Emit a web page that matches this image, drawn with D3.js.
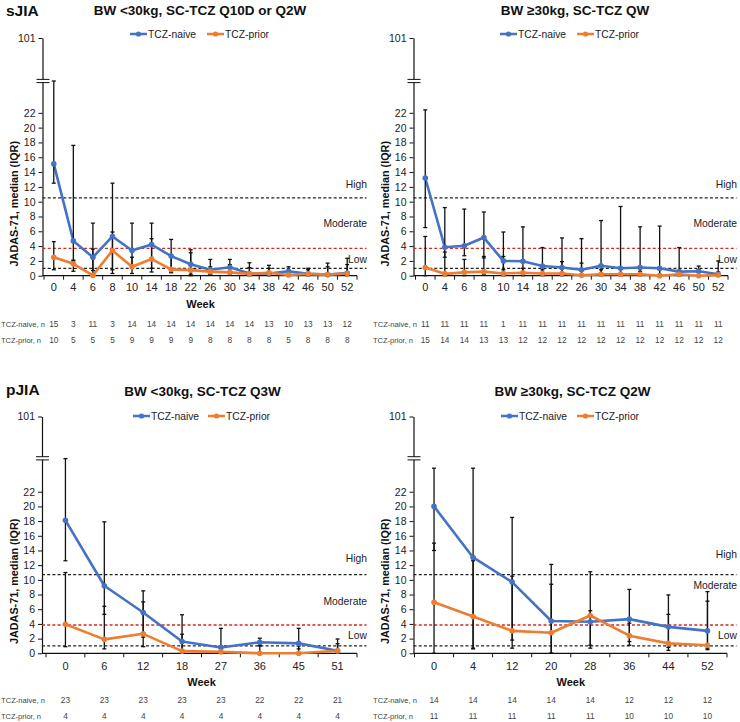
<!DOCTYPE html>
<html><head><meta charset="utf-8">
<script src="https://cdn.jsdelivr.net/npm/d3@7/dist/d3.min.js"></script>
<style>
body{margin:0;background:#fff}
svg{display:block;font-family:Arial,"Liberation Sans",sans-serif}
</style>
</head><body>
<svg id="chart" width="740" height="722"></svg>
<script>
// ---------- DATA ----------
const sjiaWeeks = [0,4,6,8,10,14,18,22,26,30,34,38,42,46,50,52];
const pjiaLowWeeks = [0,6,12,18,27,36,45,51];
const pjiaHighWeeks = [0,4,12,20,28,36,44,52];
const yTickValues = [0,2,4,6,8,10,12,14,16,18,20,22,101];
const seriesNames = ["TCZ-naive","TCZ-prior"];
const sectionLabels = ["sJIA","pJIA"];
const titles = ["BW <30kg, SC-TCZ Q10D or Q2W","BW \u226530kg, SC-TCZ QW","BW <30kg, SC-TCZ Q3W","BW \u226530kg, SC-TCZ Q2W"];
const zoneNames = ["High","Moderate","Low"];
const sjiaCutoffs = [10.5, 3.7, 1.0];
const pjiaCutoffs = [10.7, 3.85, 1.0];

// sJIA, BW <30kg
const tlNaive   = [15.1,4.7,2.5,5.3,3.4,4.2,2.65,1.55,0.8,1.15,0.3,0.3,0.6,0.25,0.15,0.35];
const tlPrior   = [2.5,1.6,0.05,3.4,1.2,2.25,0.85,0.75,0.55,0.45,0.25,0.4,0.1,0.25,0.15,0.3];
const tlNaiveLo = [12.5,2.0,0.7,0.8,1.0,1.0,0.5,0.2,0.2,0.3,0.1,0.1,0.2,0.1,0.0,0.1];
const tlNaiveHi = [26.3,17.6,7.1,12.5,7.1,7.1,4.9,3.5,2.2,2.2,1.75,1.4,1.2,1.0,1.7,2.35];
const tlPriorLo = [0.8,0.6,0.0,0.3,0.3,0.5,0.4,0.0,0.1,0.1,0.0,0.0,0.0,0.0,0.0,0.0];
const tlPriorHi = [4.6,2.1,3.6,5.9,2.5,5.0,2.7,3.1,1.2,1.5,1.1,1.0,0.5,0.8,1.2,1.5];
const tlNNaive  = [15,3,11,3,14,14,14,14,14,14,14,13,10,13,13,12];
const tlNPrior  = [10,5,5,5,9,9,9,9,8,8,8,8,5,8,8,8];

// sJIA, BW >=30kg
const trNaive   = [13.2,3.85,4.05,5.15,2.0,1.95,1.3,1.1,0.8,1.35,1.0,1.1,1.0,0.55,0.6,0.2];
const trPrior   = [1.1,0.25,0.45,0.55,0.3,0.4,0.3,0.3,0.05,0.2,0.2,0.2,0.0,0.2,0.0,0.1];
const trNaiveLo = [6.5,2.5,2.7,2.4,0.8,0.5,0.3,0.2,0.2,0.4,0.2,0.2,0.2,0.1,0.1,0.0];
const trNaiveHi = [22.4,9.2,9.0,8.6,5.9,6.6,3.8,5.1,5.0,7.45,9.35,6.6,6.7,3.8,1.3,2.0];
const trPriorLo = [0,0,0,0.2,0,0,0,0,0,0,0,0,0,0,0,0];
const trPriorHi = [5.3,3.2,2.2,2.6,2.6,1.0,0.8,1.9,1.7,0.8,0.9,0.6,0.8,0.6,0.8,0.5];
const trNNaive  = [11,11,11,11,1,11,11,11,11,11,11,11,11,11,11,11];
const trNPrior  = [15,14,14,13,13,12,12,12,12,12,12,12,12,12,12,12];

// pJIA, BW <30kg
const blNaive   = [18.1,9.2,5.55,1.6,0.8,1.5,1.35,0.35];
const blPrior   = [3.95,1.9,2.65,0.3,0.2,0.0,0.0,0.35];
const blNaiveLo = [12.6,5.3,2.2,0.5,0.0,1.1,0.6,0.0];
const blNaiveHi = [26.5,17.9,8.5,5.25,3.4,2.05,3.4,1.95];
const blPriorLo = [0.9,0.6,0.9,0.0,0.0,0.0,0.0,0.0];
const blPriorHi = [11.0,6.4,7.0,2.6,1.0,1.0,1.0,1.3];
const blNNaive  = [23,23,23,23,23,22,22,21];
const blNPrior  = [4,4,4,4,4,4,4,4];

// pJIA, BW >=30kg
const brNaive   = [20.0,13.05,9.7,4.4,4.3,4.65,3.6,3.05];
const brPrior   = [6.95,5.0,3.05,2.8,5.15,2.4,1.35,1.1];
const brNaiveLo = [14.0,0.7,1.8,0.0,1.1,1.6,0.8,0.7];
const brNaiveHi = [25.2,25.2,18.5,12.1,11.1,8.7,7.95,8.4];
const brPriorLo = [0.0,0.6,0.7,0.0,0.7,1.1,0.4,0.5];
const brPriorHi = [15.0,12.6,10.5,9.4,5.8,4.1,5.3,7.1];
const brNNaive  = [14,14,14,14,14,12,12,12];
const brNPrior  = [11,11,11,11,11,10,10,10];

// ---------- LAYOUT ----------
const colors = ["#4472C4","#ED7D31"];
const rowTop = {y0:275.7, yBreak:81, y101:38, brk:26.3, titleY:15, legY:34, tickY:291, weekY:308, nY:[327,343], sectY:16};
const rowBot = {y0:653.3, yBreak:458.3, y101:416.5, brk:26.55, titleY:395.5, legY:416, tickY:670, weekY:686, nY:[703,718.5], sectY:395};

const panels = [
  Object.assign({}, rowTop, {weeks:sjiaWeeks, naive:tlNaive, prior:tlPrior, nLo:tlNaiveLo, nHi:tlNaiveHi, pLo:tlPriorLo, pHi:tlPriorHi, nN:tlNNaive, nP:tlNPrior,
    cut:sjiaCutoffs, zoneVals:[12.4,7.1,2.25], x0:42.5, band:[44,357], dashEnd:366.5, title:titles[0], titleX:200, leg:[130,207], showWeek:true, nLabelX:1, ylabX:14, section:sectionLabels[0]}),
  Object.assign({}, rowTop, {weeks:sjiaWeeks, naive:trNaive, prior:trPrior, nLo:trNaiveLo, nHi:trNaiveHi, pLo:trPriorLo, pHi:trPriorHi, nN:trNNaive, nP:trNPrior,
    cut:sjiaCutoffs, zoneVals:[12.4,7.1,2.25], x0:413.5, band:[415.5,728], dashEnd:736.5, title:titles[1], titleX:575, leg:[500,577], showWeek:false, nLabelX:373, ylabX:385}),
  Object.assign({}, rowBot, {weeks:pjiaLowWeeks, naive:blNaive, prior:blPrior, nLo:blNaiveLo, nHi:blNaiveHi, pLo:blPriorLo, pHi:blPriorHi, nN:blNNaive, nP:blNPrior,
    cut:pjiaCutoffs, zoneVals:[12.9,7.1,2.4], x0:42, band:[46,357], dashEnd:366.5, title:titles[2], titleX:202.5, leg:[133,208], showWeek:true, nLabelX:1, ylabX:14, section:sectionLabels[1]}),
  Object.assign({}, rowBot, {weeks:pjiaHighWeeks, naive:brNaive, prior:brPrior, nLo:brNaiveLo, nHi:brNaiveHi, pLo:brPriorLo, pHi:brPriorHi, nN:brNNaive, nP:brNPrior,
    cut:pjiaCutoffs, zoneVals:[13.4,9.3,2.4], x0:413.5, band:[414.5,727], dashEnd:736.5, title:titles[3], titleX:572.5, leg:[501,577], showWeek:true, nLabelX:373, ylabX:385})
];

const svg = d3.select("#chart");

function drawPanel(p) {
  const g = svg.append("g");
  const x = d3.scaleBand().domain(p.weeks.map(String)).range(p.band);
  const y = d3.scaleLinear().domain([0, p.brk, 101]).range([p.y0, p.yBreak, p.y101]);
  const cx = w => x(String(w)) + x.bandwidth() / 2;

  if (p.section) g.append("text").attr("x", 6).attr("y", p.sectY).attr("font-size", 15.5).attr("font-weight", "bold").attr("fill", "#111").text(p.section);
  g.append("text").attr("x", p.titleX).attr("y", p.titleY).attr("text-anchor", "middle").attr("font-size", 13.5).attr("font-weight", "bold").attr("fill", "#111").text(p.title);

  seriesNames.forEach((name, i) => {
    const lx = p.leg[i];
    g.append("line").attr("x1", lx).attr("x2", lx + 17).attr("y1", p.legY).attr("y2", p.legY).attr("stroke", colors[i]).attr("stroke-width", 2.5);
    g.append("circle").attr("cx", lx + 8.5).attr("cy", p.legY).attr("r", 2.6).attr("fill", colors[i]);
    g.append("text").attr("x", lx + 18).attr("y", p.legY).attr("dy", "0.35em").attr("font-size", 10.3).attr("fill", "#222").text(name);
  });

  const yAxis = d3.axisLeft(y).tickValues(yTickValues).tickSize(4).tickSizeOuter(0).tickPadding(3).tickFormat(d3.format("d"));
  const ya = g.append("g").attr("transform", `translate(${p.x0},0)`).call(yAxis);
  ya.select(".domain").attr("stroke", "#111").attr("stroke-width", 1.2);
  ya.selectAll(".tick line").attr("stroke", "#111").attr("stroke-width", 1);
  ya.selectAll(".tick text").attr("font-size", 10.5).attr("fill", "#222").attr("font-family", "Arial, 'Liberation Sans', sans-serif");

  const yb = p.yBreak;
  g.append("rect").attr("x", p.x0 - 6).attr("y", yb - 1.6).attr("width", 13).attr("height", 3.2).attr("fill", "#fff");
  [-1.6, 1.6].forEach(d => g.append("line").attr("x1", p.x0 - 6).attr("x2", p.x0 + 7).attr("y1", yb + d).attr("y2", yb + d).attr("stroke", "#111").attr("stroke-width", 1));

  g.append("text").attr("transform", `translate(${p.ylabX},${p.y0 - 72}) rotate(-90)`).attr("text-anchor", "middle").attr("dy", "0.35em")
    .attr("font-size", 10.8).attr("font-weight", "bold").attr("fill", "#111").text("JADAS-71, median (IQR)");

  p.cut.forEach((c, i) => {
    g.append("line").attr("x1", p.x0).attr("x2", p.dashEnd).attr("y1", y(c)).attr("y2", y(c))
      .attr("stroke", i === 1 ? "#d42a20" : "#222").attr("stroke-width", 1.3).attr("stroke-dasharray", "3,2.2");
  });
  zoneNames.forEach((z, i) => {
    g.append("text").attr("x", p.dashEnd + 0.5).attr("y", y(p.zoneVals[i])).attr("dy", "0.35em").attr("text-anchor", "end")
      .attr("font-size", 10.3).attr("fill", "#222").text(z);
  });

  g.append("line").attr("x1", p.x0).attr("x2", p.band[1]).attr("y1", p.y0).attr("y2", p.y0).attr("stroke", "#111").attr("stroke-width", 1.2);
  const bw = x.step();
  d3.range(p.weeks.length + 1).forEach(i => {
    const tx = p.band[0] + i * bw;
    g.append("line").attr("x1", tx).attr("x2", tx).attr("y1", p.y0).attr("y2", p.y0 + 4).attr("stroke", "#111").attr("stroke-width", 1);
  });
  const xa = g.append("g").attr("transform", `translate(0,${p.y0})`).call(d3.axisBottom(x).tickSize(0).tickPadding(0));
  xa.select(".domain").remove();
  xa.selectAll(".tick text").attr("y", p.tickY - p.y0).attr("dy", 0).attr("font-size", 11).attr("fill", "#222").attr("font-family", "Arial, 'Liberation Sans', sans-serif");
  if (p.showWeek) g.append("text").attr("x", (p.band[0] + p.band[1]) / 2).attr("y", p.weekY).attr("text-anchor", "middle").attr("font-size", 11).attr("font-weight", "bold").attr("fill", "#111").text("Week");

  const line = d3.line().x((d, i) => cx(p.weeks[i])).y(d => y(d));
  [p.naive, p.prior].forEach((s, k) => {
    g.append("path").datum(s).attr("d", line).attr("fill", "none").attr("stroke", colors[k]).attr("stroke-width", 2.6).attr("stroke-linejoin", "round");
  });

  [[p.nLo, p.nHi], [p.pLo, p.pHi]].forEach(([lo, hi]) => {
    p.weeks.forEach((w, i) => {
      const X = cx(w);
      g.append("line").attr("x1", X).attr("x2", X).attr("y1", y(lo[i])).attr("y2", y(hi[i])).attr("stroke", "#111").attr("stroke-width", 1.3);
      [lo[i], hi[i]].forEach(v => g.append("line").attr("x1", X - 2).attr("x2", X + 2).attr("y1", y(v)).attr("y2", y(v)).attr("stroke", "#111").attr("stroke-width", 1.3));
    });
  });

  [p.naive, p.prior].forEach((s, k) => {
    g.selectAll(null).data(s).enter().append("circle").attr("cx", (d, i) => cx(p.weeks[i])).attr("cy", d => y(d)).attr("r", 2.8).attr("fill", colors[k]);
  });

  [p.nN, p.nP].forEach((arr, k) => {
    g.append("text").attr("x", p.nLabelX).attr("y", p.nY[k]).attr("font-size", 8).attr("fill", "#444")
      .attr("textLength", k === 0 ? 44 : 40).attr("lengthAdjust", "spacingAndGlyphs").text(seriesNames[k] + ", n");
    g.selectAll(null).data(arr).enter().append("text").attr("x", (d, i) => cx(p.weeks[i])).attr("y", p.nY[k]).attr("text-anchor", "middle")
      .attr("font-size", 8.3).attr("fill", "#444").text(d => d);
  });
}

panels.forEach(drawPanel);
</script>
</body></html>
